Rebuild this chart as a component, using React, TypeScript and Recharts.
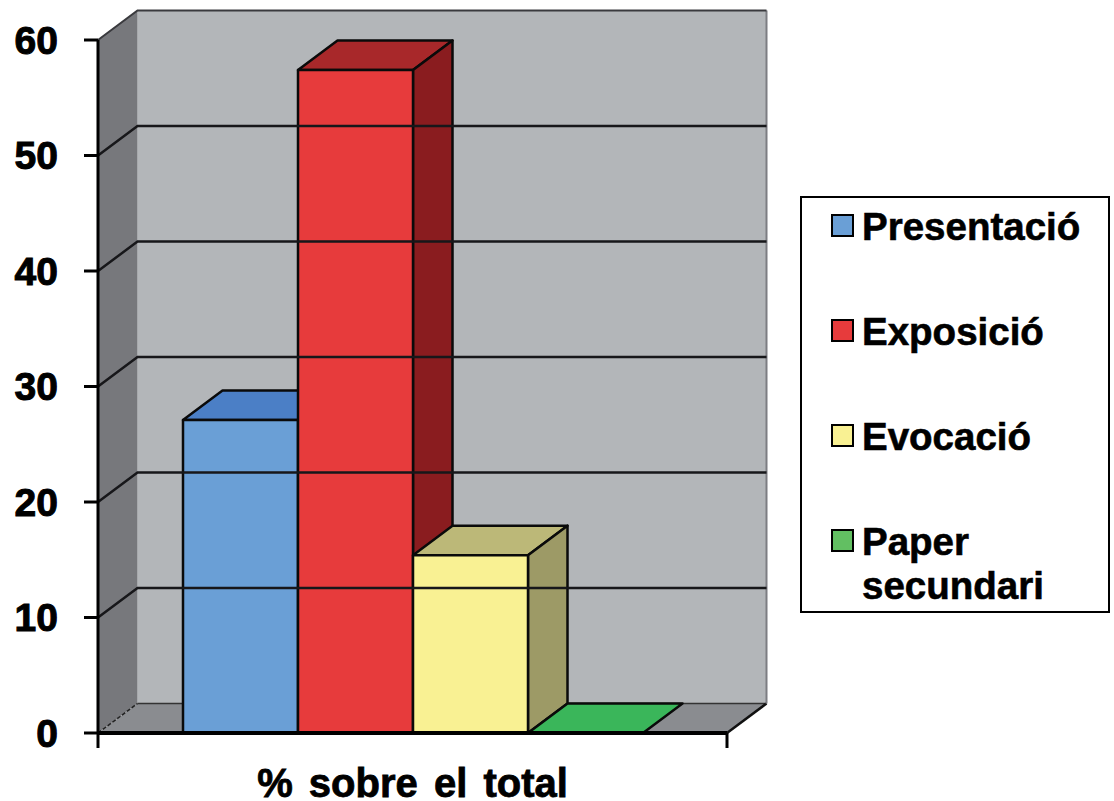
import { BarChart, Bar, XAxis, YAxis, Legend, ReferenceArea, ReferenceLine } from "recharts";

const categories = ["% sobre el total"];
const presentacio = [27.1];
const exposicio = [57.4];
const evocacio = [15.4];
const paperSecundari = [0];
const yTicks = [0, 10, 20, 30, 40, 50, 60];
const gridValues = [10, 20, 30, 40, 50, 60];

const chartData = categories.map((name, i) => ({
  name,
  presentacio: presentacio[i],
  exposicio: exposicio[i],
  evocacio: evocacio[i],
  paper: paperSecundari[i],
}));

// how far the back wall is pushed from the front plane
const DX = 39.5;
const DY = 29.5;
const FONT = "'Liberation Sans', Arial, sans-serif";

const Box3D = ({ x, y, width, height, fill, topFill, sideFill }: any) => {
  const x2 = x + width;
  const y2 = y + height;
  return (
    <g stroke="#0a0a0a" strokeWidth={2.5} strokeLinejoin="round">
      <polygon points={`${x},${y} ${x + DX},${y - DY} ${x2 + DX},${y - DY} ${x2},${y}`} fill={topFill} />
      {height > 0 && (
        <polygon points={`${x2},${y} ${x2 + DX},${y - DY} ${x2 + DX},${y2 - DY} ${x2},${y2}`} fill={sideFill} />
      )}
      {height > 0 && <rect x={x} y={y} width={width} height={height} fill={fill} />}
    </g>
  );
};

const Walls = ({ x, y, width, height }: any) => {
  const right = x + width;
  const bottom = y + height;
  return (
    <g>
      <polygon points={`${x + DX},${y - DY} ${right + DX},${y - DY} ${right + DX},${bottom - DY} ${x + DX},${bottom - DY}`} fill="#b3b6b9" />
      <polygon points={`${x},${y} ${x + DX},${y - DY} ${x + DX},${bottom - DY} ${x},${bottom}`} fill="#77787c" />
      <polygon points={`${x},${bottom} ${x + DX},${bottom - DY} ${right + DX},${bottom - DY} ${right},${bottom}`} fill="#8a8c90" />
      <line x1={x + DX} y1={bottom - DY} x2={right + DX} y2={bottom - DY} stroke="#333" strokeWidth={1.5} />
      <line x1={x} y1={bottom} x2={x + DX} y2={bottom - DY} stroke="#222" strokeWidth={1.5} strokeDasharray="4 2" />
      <line x1={right} y1={bottom} x2={right + DX} y2={bottom - DY} stroke="#111" strokeWidth={2.5} />
      <line x1={right + DX} y1={y - DY} x2={right + DX} y2={bottom - DY} stroke="#7c7d82" strokeWidth={2} />
      <line x1={x} y1={bottom} x2={x} y2={bottom + 15} stroke="#000" strokeWidth={3} />
      <line x1={right} y1={bottom} x2={right} y2={bottom + 15} stroke="#000" strokeWidth={3} />
    </g>
  );
};

const GridLine = ({ x1, y1, x2, top }: any) => (
  <polyline
    points={`${x1},${y1} ${x1 + DX},${y1 - DY} ${x2 + DX},${y1 - DY}`}
    fill="none"
    stroke={top ? "#3a3a3e" : "#17171a"}
    strokeWidth={top ? 2 : 2.5}
  />
);

const NameTick = ({ x, y, payload }: any) => (
  <text
    x={x}
    y={y + 58}
    textAnchor="middle"
    fontFamily={FONT}
    fontWeight="bold"
    fontSize={40}
    fill="#000"
    stroke="#000"
    strokeWidth={0.8}
    style={{ wordSpacing: 5 }}
  >
    {payload.value}
  </text>
);

const LegendBox = ({ payload }: any) => (
  <div
    style={{
      boxSizing: "border-box",
      width: 310,
      height: 417,
      border: "2.5px solid #000",
      background: "#fff",
      padding: "7px 0 0 29px",
      fontFamily: FONT,
      fontWeight: "bold",
      fontSize: 38.5,
      lineHeight: "44px",
      color: "#000",
      WebkitTextStroke: "0.6px #000",
    }}
  >
    {(payload || []).map((item: any) => (
      <div key={item.value} style={{ display: "flex", height: 105 }}>
        <span
          style={{
            boxSizing: "border-box",
            flex: "none",
            width: 23,
            height: 23,
            marginTop: 9,
            marginRight: 8,
            border: "2.5px solid #000",
            background: item.color,
          }}
        />
        <span style={{ width: 220 }}>{item.value}</span>
      </div>
    ))}
  </div>
);

export default function App() {
  return (
    <div style={{ position: "absolute", left: 0, top: 0 }}>
      <BarChart
        width={1114}
        height={801}
        data={chartData}
        margin={{ top: 40, right: 387, bottom: 0, left: 0 }}
        barCategoryGap={85}
        barGap={0}
      >
        <ReferenceArea y1={0} y2={60} ifOverflow="visible" shape={<Walls />} />
        {gridValues.map((v) => (
          <ReferenceLine key={v} y={v} ifOverflow="visible" shape={(p: any) => <GridLine {...p} top={v === 60} />} />
        ))}
        <XAxis
          dataKey="name"
          height={68}
          tickLine={false}
          axisLine={{ stroke: "#000", strokeWidth: 4 }}
          tick={<NameTick />}
          tickMargin={0}
          interval={0}
        />
        <YAxis
          width={98}
          domain={[0, 60]}
          ticks={yTicks}
          interval={0}
          tickSize={14}
          tickMargin={26}
          axisLine={{ stroke: "#000", strokeWidth: 3 }}
          tickLine={{ stroke: "#000", strokeWidth: 3 }}
          tick={{ fill: "#000", stroke: "#000", strokeWidth: 1, fontSize: 39, fontWeight: "bold", fontFamily: FONT }}
        />
        <Legend
          layout="vertical"
          align="center"
          verticalAlign="middle"
          content={<LegendBox />}
          itemSorter={null}
          wrapperStyle={{ left: 800, top: 196, width: 310, height: 417 }}
        />
        <Bar
          dataKey="presentacio"
          name="Presentació"
          fill="#6a9fd6"
          isAnimationActive={false}
          shape={(p: any) => <Box3D {...p} fill="#6a9fd6" topFill="#4b7fc6" sideFill="#3e6a9e" />}
        />
        <Bar
          dataKey="exposicio"
          name="Exposició"
          fill="#e73b3c"
          isAnimationActive={false}
          shape={(p: any) => <Box3D {...p} fill="#e73b3c" topFill="#a8282a" sideFill="#8a1c1f" />}
        />
        <Bar
          dataKey="evocacio"
          name="Evocació"
          fill="#f9f193"
          isAnimationActive={false}
          shape={(p: any) => <Box3D {...p} fill="#f9f193" topFill="#bcb878" sideFill="#9d9a66" />}
        />
        <Bar
          dataKey="paper"
          name="Paper secundari"
          fill="#62bf62"
          isAnimationActive={false}
          shape={(p: any) => <Box3D {...p} fill="#62bf62" topFill="#3ab65a" sideFill="#2f8f47" />}
        />
      </BarChart>
    </div>
  );
}
